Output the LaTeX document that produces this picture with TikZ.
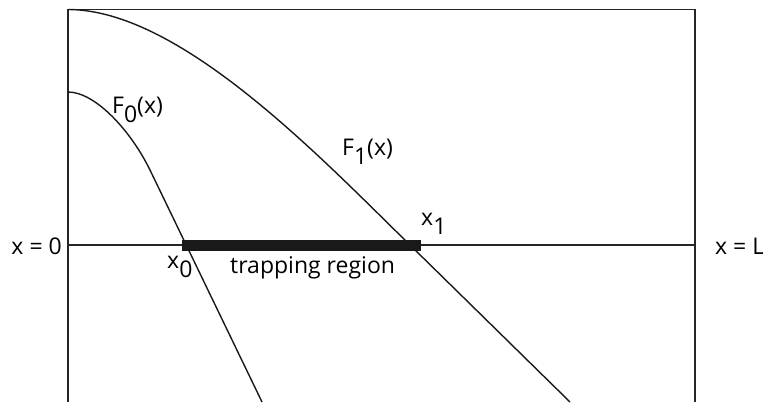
\documentclass[tikz,border=0pt]{standalone}
\usepackage{fontspec}
\setmainfont{Open Sans}
\newcommand{\subd}[1]{\raisebox{-9pt}{#1}}
\begin{document}
\begin{tikzpicture}[x=1pt,y=-1pt,
  lbl/.style={inner sep=0pt,font=\fontsize{23}{26}\selectfont},
  axis/.style={line width=1.5pt,black!85},
  curve/.style={line width=1.4pt,black!90},
  bar/.style={line width=11pt,black!90}]
\useasboundingbox (0,0) rectangle (763,402);
% frame
\coordinate (BL) at (68,402);
\coordinate (TL) at (68,9.5);
\coordinate (TR) at (695,9.5);
\coordinate (BR) at (695,402);
\coordinate (HL) at (68,245);
\coordinate (HR) at (695,245);
\draw[axis] (BL) -- (TL) -- (TR) -- (BR);
\draw[axis,line width=1.2pt] (HL) -- (HR);
% trapping region bar
\coordinate (X0) at (182,245);
\coordinate (X1) at (421,245);
\draw[bar] (X0) -- (X1);
% curves
\coordinate (F0s) at (68,92);
\coordinate (F0m) at (150,170);
\coordinate (F0e) at (262,402);
\draw[curve] (F0s) .. controls (95,92) and (130.4,130) .. (F0m) -- (F0e);
\coordinate (F1s) at (68,9.5);
\coordinate (F1m) at (410,245);
\coordinate (F1e) at (570,402);
\draw[curve] (F1s) .. controls (180,9.5) and (320,157) .. (F1m) -- (F1e);
% labels
\node[lbl,anchor=base east] (l0) at (62,254) {x = 0};
\node[lbl,anchor=base west] (lL) at (715,254) {x = L};
\node[lbl,anchor=base west] (lF0) at (112,113) {F\subd{0}(x)};
\node[lbl,anchor=base west] (lF1) at (342,155) {F\subd{1}(x)};
\node[lbl,anchor=base west] (lx0) at (167,268) {x\subd{0}};
\node[lbl,anchor=base west] (lx1) at (421,225) {x\subd{1}};
\node[lbl,anchor=base west] (ltr) at (230,273) {trapping region};
\end{tikzpicture}
\end{document}
